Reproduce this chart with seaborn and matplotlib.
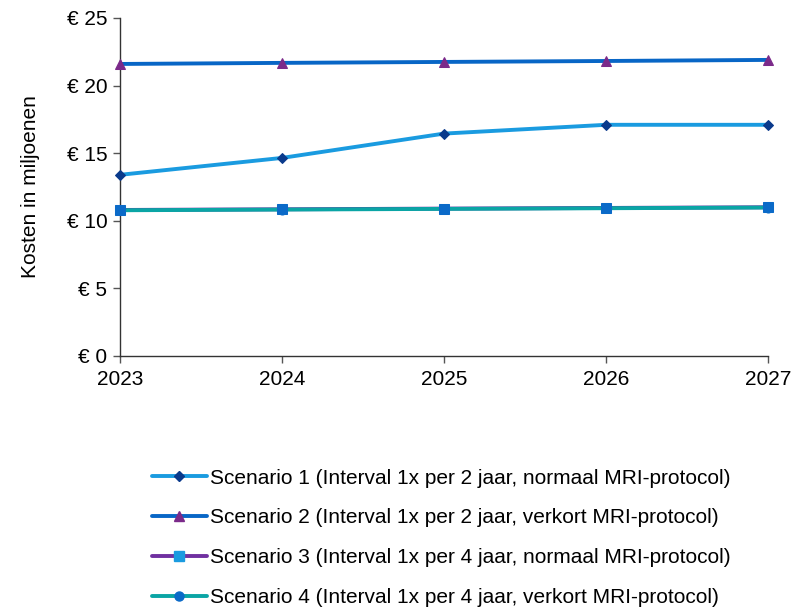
import matplotlib
matplotlib.use("Agg")
import matplotlib.pyplot as plt
from matplotlib.lines import Line2D
from matplotlib.ticker import FuncFormatter, MultipleLocator
import pandas as pd
import seaborn as sns

jaren = [2023, 2024, 2025, 2026, 2027]
scenario1 = [13.4, 14.65, 16.45, 17.1, 17.1]
scenario2 = [21.6, 21.68, 21.75, 21.82, 21.9]
scenario3 = [10.8, 10.85, 10.9, 10.95, 11.0]
scenario4 = [10.78, 10.83, 10.88, 10.93, 10.98]

labels = [
    "Scenario 1 (Interval 1x per 2 jaar, normaal MRI-protocol)",
    "Scenario 2 (Interval 1x per 2 jaar, verkort MRI-protocol)",
    "Scenario 3 (Interval 1x per 4 jaar, normaal MRI-protocol)",
    "Scenario 4 (Interval 1x per 4 jaar, verkort MRI-protocol)",
]
lijnkleuren = ["#1a9be0", "#0866c6", "#7030a0", "#0aa5a5"]
markers = ["D", "^", "s", "o"]
markerkleuren = ["#0a3a8c", "#7b2a8a", "#0b6ac8", "#0b6ac8"]
legend_markerkleuren = ["#0a3a8c", "#7b2a8a", "#1a9be0", "#0b6ac8"]
markergroottes = [5.5, 7, 7, 6.5]

sns.set_style("white")
plt.rcParams["font.family"] = ["Liberation Sans", "DejaVu Sans"]
plt.rcParams["text.color"] = "black"
plt.rcParams["axes.labelcolor"] = "black"

fig = plt.figure(figsize=(8, 6.08), dpi=100)
ax = fig.add_axes([0.15, 0.4145, 0.81, 0.5559])

reeksen = [scenario1, scenario2, scenario3, scenario4]
for waarden, kleur in zip(reeksen, lijnkleuren):
    df = pd.DataFrame({"jaar": jaren, "kosten": waarden})
    sns.lineplot(data=df, x="jaar", y="kosten", color=kleur, lw=2.8, ax=ax,
                 zorder=2, legend=False)
for waarden, m, mk, ms in zip(reeksen, markers, markerkleuren, markergroottes):
    df = pd.DataFrame({"jaar": jaren, "kosten": waarden})
    sns.lineplot(data=df, x="jaar", y="kosten", marker=m, markersize=ms,
                 markerfacecolor=mk, markeredgecolor=mk, linestyle="",
                 ax=ax, zorder=3, legend=False, clip_on=False)

ax.set_xlim(2023, 2027)
ax.set_ylim(0, 25)
ax.xaxis.set_major_locator(MultipleLocator(1))
ax.yaxis.set_major_locator(MultipleLocator(5))
ax.yaxis.set_major_formatter(FuncFormatter(lambda v, p: f"€ {v:.0f}"))
ax.xaxis.set_major_formatter(FuncFormatter(lambda v, p: f"{v:.0f}"))
ax.set_xlabel("")
ax.set_ylabel("Kosten in miljoenen", fontsize=15, labelpad=19)
ax.tick_params(axis="both", labelsize=15, direction="out", length=5,
               width=1, colors="#555555", labelcolor="black",
               bottom=True, left=True)
ax.tick_params(axis="x", pad=5)
ax.tick_params(axis="y", pad=4)
for s in ["top", "right"]:
    ax.spines[s].set_visible(False)
for s in ["left", "bottom"]:
    ax.spines[s].set_color("#333333")
    ax.spines[s].set_linewidth(1)

handles = [Line2D([0], [0], color=c, lw=2.8, marker=m, markersize=ms,
                  markerfacecolor=mk, markeredgecolor=mk)
           for c, m, mk, ms in zip(lijnkleuren, markers,
                                   legend_markerkleuren, markergroottes)]
fig.legend(handles, labels, loc="upper left", bbox_to_anchor=(0.179, 0.243),
           frameon=False, fontsize=15, handlelength=2.65, handletextpad=0.15,
           labelspacing=1.0, borderaxespad=0)

fig.savefig("out.png", dpi=100)
